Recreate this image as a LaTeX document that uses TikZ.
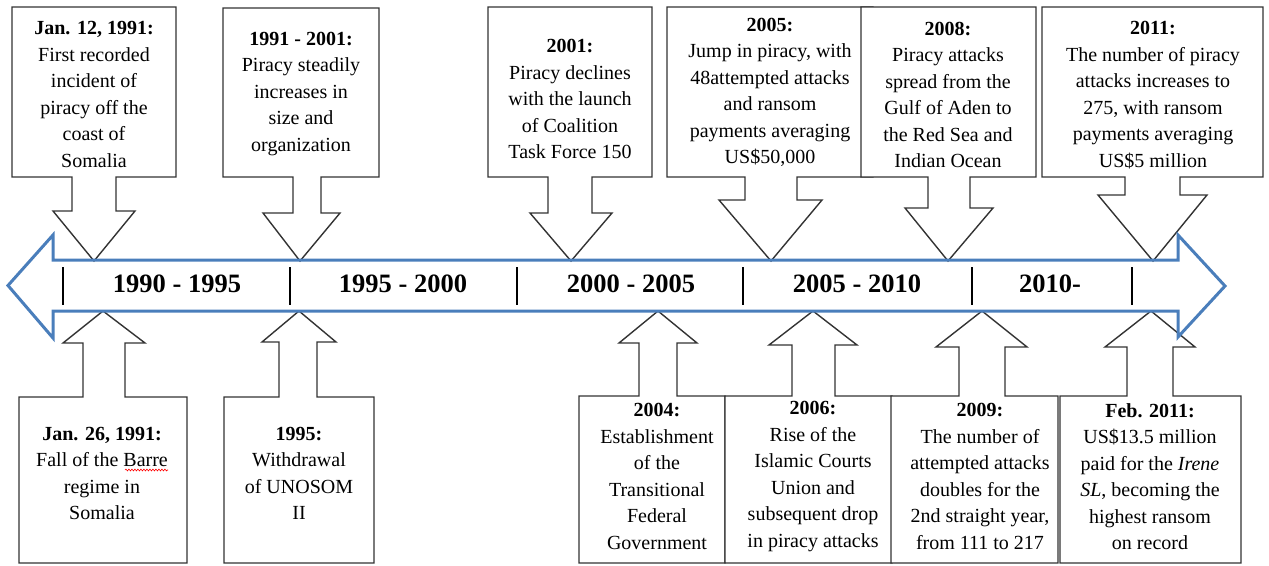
\documentclass[tikz,border=0pt]{standalone}
\usepackage{fontspec}
\setmainfont{Liberation Serif}
\usetikzlibrary{decorations.pathmorphing}
\definecolor{mainblue}{HTML}{4A7EBB}
\definecolor{edge}{HTML}{333333}
\begin{document}
\begin{tikzpicture}[x=1pt,y=-1pt,
  co/.style={draw=edge, line width=1.4pt, fill=white, line join=miter},
  txt/.style={align=center, inner sep=0pt, font=\fontsize{20}{26.5}\selectfont},
  lab/.style={anchor=base, inner sep=0pt, font=\fontsize{26.5}{30}\selectfont\bfseries},
  tick/.style={draw=black, line width=1.2pt},
  mainarrow/.style={draw=mainblue, line width=3pt, line join=miter}]
\useasboundingbox (0,0) rectangle (1269,565);

% tips on the timeline
\coordinate (p1) at (94,261);
\coordinate (p2) at (300,261);
\coordinate (p3) at (571,261);
\coordinate (p4) at (771,261);
\coordinate (p5) at (948,261);
\coordinate (p6) at (1153,261);
\coordinate (q1) at (103,311);
\coordinate (q2) at (299,311);
\coordinate (q3) at (658,311);
\coordinate (q4) at (813,311);
\coordinate (q5) at (982,311);
\coordinate (q6) at (1151,311);

% top callouts
\draw[co] (12,7) -- (176,7) -- (176,177) -- (116,177) -- (116,211) -- (135,211) -- (p1) -- (53,211) -- (72,211) -- (72,177) -- (12,177) -- cycle;
\draw[co] (223,8) -- (379,8) -- (379,177) -- (321,177) -- (321,213) -- (340,213) -- (p2) -- (263,213) -- (293,213) -- (293,177) -- (223,177) -- cycle;
\draw[co] (488,7) -- (652,7) -- (652,177) -- (592,177) -- (592,213) -- (612,213) -- (p3) -- (530,213) -- (548,213) -- (548,177) -- (488,177) -- cycle;
\draw[co] (667,7) -- (873,7) -- (873,177) -- (797,177) -- (797,200) -- (822,200) -- (p4) -- (719,200) -- (745,200) -- (745,177) -- (667,177) -- cycle;
\draw[co] (861,7) -- (1036,7) -- (1036,177) -- (970,177) -- (970,208) -- (993,208) -- (p5) -- (905,208) -- (928,208) -- (928,177) -- (861,177) -- cycle;
\draw[co] (1042,7) -- (1263,7) -- (1263,177) -- (1180,177) -- (1180,195) -- (1207,195) -- (p6) -- (1098,195) -- (1125,195) -- (1125,177) -- (1042,177) -- cycle;

% bottom callouts
\draw[co] (19,563) -- (187,563) -- (187,397) -- (125,397) -- (125,343) -- (145,343) -- (q1) -- (63,343) -- (83,343) -- (83,397) -- (19,397) -- cycle;
\draw[co] (224,563) -- (374,563) -- (374,397) -- (317,397) -- (317,342) -- (336,342) -- (q2) -- (262,342) -- (279,342) -- (279,397) -- (224,397) -- cycle;
\draw[co] (579,563) -- (725,563) -- (725,396) -- (677,396) -- (677,343) -- (697,343) -- (q3) -- (619,343) -- (639,343) -- (639,396) -- (579,396) -- cycle;
\draw[co] (725,563) -- (892,563) -- (892,396) -- (835,396) -- (835,345) -- (857,345) -- (q4) -- (769,345) -- (792,345) -- (792,396) -- (725,396) -- cycle;
\draw[co] (891,563) -- (1058,563) -- (1058,396) -- (1005,396) -- (1005,347) -- (1027,347) -- (q5) -- (936,347) -- (959,347) -- (959,396) -- (891,396) -- cycle;
\draw[co] (1060,563) -- (1241,563) -- (1241,396) -- (1173,396) -- (1173,347) -- (1195,347) -- (q6) -- (1105,347) -- (1127,347) -- (1127,396) -- (1060,396) -- cycle;

% main double arrow
\draw[mainarrow] (8,285.5) -- (53,235) -- (53,260) -- (1178,260) -- (1178,235) -- (1225,286) -- (1178,337) -- (1178,311) -- (53,311) -- (53,338) -- cycle;

% ticks
\foreach \x/\n in {63/k1,290/k2,517/k3,743/k4,972/k5,1132/k6}{
  \coordinate (\n a) at (\x,267);
  \coordinate (\n b) at (\x,305);
  \draw[tick] (\n a) -- (\n b);
}

% period labels
\node[lab] (l1) at (177,292) {1990 - 1995};
\node[lab] (l2) at (403,292) {1995 - 2000};
\node[lab] (l3) at (631,292) {2000 - 2005};
\node[lab] (l4) at (857,292) {2005 - 2010};
\node[lab] (l5) at (1050,292) {2010-};

% top texts
\node[txt] (t1) at (94,94.5) {\textbf{Jan. 12, 1991:}\\First recorded\\incident of\\piracy off the\\coast of\\Somalia};
\node[txt] (t2) at (301,94) {\textbf{1991 - 2001:}\\Piracy steadily\\increases in\\size and\\organization};
\node[txt] (t3) at (570,99) {\textbf{2001:}\\Piracy declines\\with the launch\\of Coalition\\Task Force 150};
\node[txt] (t4) at (770,92.5) {\textbf{2005:}\\Jump in piracy, with\\48attempted attacks\\and ransom\\payments averaging\\US\$50,000};
\node[txt] (t5) at (948,95) {\textbf{2008:}\\Piracy attacks\\spread from the\\Gulf of Aden to\\the Red Sea and\\Indian Ocean};
\node[txt] (t6) at (1153,95) {\textbf{2011:}\\The number of piracy\\attacks increases to\\275, with ransom\\payments averaging\\US\$5 million};

% bottom texts
\node[txt] (b1) at (102,473.5) {\textbf{Jan. 26, 1991:}\\Fall of the Barre\\regime in\\Somalia};
\node[txt] (b2) at (299,473.5) {\textbf{1995:}\\Withdrawal\\of UNOSOM\\II};
\node[txt] (b3) at (657,476.5) {\textbf{2004:}\\Establishment\\of the\\Transitional\\Federal\\Government};
\node[txt] (b4) at (813,476.5) {\textbf{2006:}\\Rise of the\\Islamic Courts\\Union and\\subsequent drop\\in piracy attacks};
\node[txt] (b5) at (980,476.5) {\textbf{2009:}\\The number of\\attempted attacks\\doubles for the\\2nd straight year,\\from 111 to 217};
\node[txt] (b6) at (1150,476.5) {\textbf{Feb. 2011:}\\US\$13.5 million\\paid for the \textit{Irene}\\\textit{SL}, becoming the\\highest ransom\\on record};

% spell-check underline under "Barre"
\coordinate (w1) at (125,470);
\coordinate (w2) at (168,470);
\draw[red, line width=0.6pt, decorate, decoration={snake, amplitude=0.9pt, segment length=3pt}] (w1) -- (w2);
\end{tikzpicture}
\end{document}
